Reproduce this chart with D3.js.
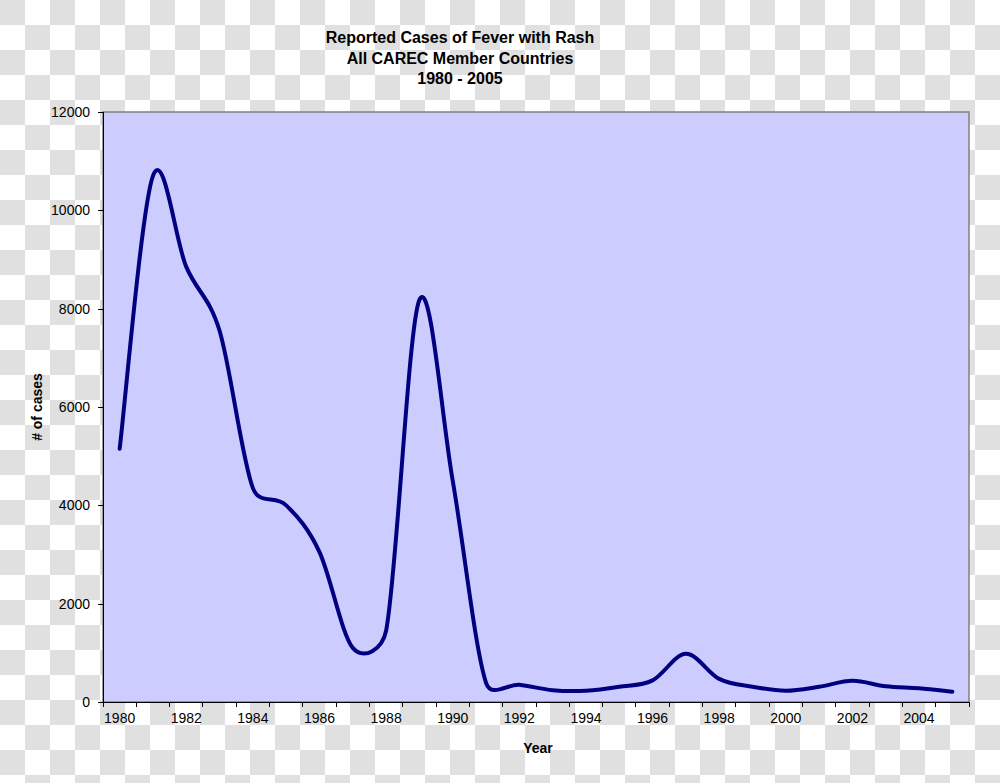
<!DOCTYPE html>
<html lang="en">
<head>
  <meta charset="UTF-8">
  <title>Reported Cases of Fever with Rash</title>
  <style>
      body { margin: 0; }
      text { font-family: Arial, "Liberation Sans", sans-serif; fill: #000; }
      .axis path, .axis line { stroke: #000; shape-rendering: crispEdges; }
      .axis text { font-size: 14px; }
  </style>
</head>
<body>
<div id="chart"></div>
<script src="https://d3js.org/d3.v7.min.js"></script>
<script>
  const years = ['1980', '1981', '1982', '1983', '1984', '1985', '1986', '1987', '1988', '1989',
    '1990', '1991', '1992', '1993', '1994', '1995', '1996', '1997', '1998', '1999',
    '2000', '2001', '2002', '2003', '2004', '2005'];
  const cases = [5150, 10700, 8850, 7550, 4350, 4000, 3050, 1100, 1450, 8180,
    4500, 390, 350, 240, 230, 310, 440, 980, 470, 310,
    230, 310, 430, 320, 280, 210];
  const yTicks = [0, 2000, 4000, 6000, 8000, 10000, 12000];
  const titleLines = ['Reported Cases of Fever with Rash', 'All CAREC Member Countries', '1980 - 2005'];

  const W = 1000, H = 783;
  const margin = {top: 112, right: 31, bottom: 81, left: 103},
    width = W - margin.left - margin.right,
    height = H - margin.top - margin.bottom;

  // spreadsheet-style smoothing: bezier with 1/6 tangents, handles capped at half a segment
  function curveSmooth(context) {
    let pts;
    const dist = (a, b) => Math.hypot(b[0] - a[0], b[1] - a[1]);
    return {
      areaStart() {}, areaEnd() {},
      lineStart() { pts = []; },
      point(px, py) { pts.push([+px, +py]); },
      lineEnd() {
        const n = pts.length;
        if (!n) return;
        context.moveTo(pts[0][0], pts[0][1]);
        for (let i = 0; i < n - 1; i++) {
          const p0 = pts[Math.max(i - 1, 0)], p1 = pts[i], p2 = pts[i + 1], p3 = pts[Math.min(i + 2, n - 1)];
          const d12 = dist(p1, p2), d02 = dist(p0, p2), d13 = dist(p1, p3);
          let f1 = 1 / 6, f2 = 1 / 6;
          if (d02 / 6 > d12 / 2) f1 = d12 / (2 * d02);
          if (d13 / 6 > d12 / 2) f2 = d12 / (2 * d13);
          context.bezierCurveTo(
            p1[0] + f1 * (p2[0] - p0[0]), p1[1] + f1 * (p2[1] - p0[1]),
            p2[0] - f2 * (p3[0] - p1[0]), p2[1] - f2 * (p3[1] - p1[1]),
            p2[0], p2[1]);
        }
      }
    };
  }

  const root = d3.select("#chart").append("svg")
    .attr("width", W)
    .attr("height", H);

  // checkerboard backdrop
  const pat = root.append("defs").append("pattern")
    .attr("id", "checker")
    .attr("width", 50).attr("height", 50)
    .attr("patternUnits", "userSpaceOnUse");
  pat.append("rect").attr("width", 50).attr("height", 50).attr("fill", "#ffffff");
  pat.append("rect").attr("width", 25).attr("height", 25).attr("fill", "#e0e0e0");
  pat.append("rect").attr("x", 25).attr("y", 25).attr("width", 25).attr("height", 25).attr("fill", "#e0e0e0");
  root.append("rect").attr("width", W).attr("height", H).attr("fill", "url(#checker)");

  const svg = root.append("g")
    .attr("transform", `translate(${margin.left},${margin.top})`);

  const x = d3.scaleBand()
    .domain(years)
    .range([0, width]);

  const y = d3.scaleLinear()
    .domain([0, 12000])
    .range([height, 0]);

  // plot area
  svg.append("rect")
    .attr("width", width)
    .attr("height", height)
    .attr("fill", "#ccccff")
    .attr("stroke", "#808080")
    .attr("stroke-width", 1.5);

  // y axis
  svg.append("g")
    .attr("class", "axis")
    .call(d3.axisLeft(y).tickValues(yTicks).tickSize(5).tickPadding(8).tickFormat(d3.format("d")));

  // x axis: ticks on band edges, labels every second year
  const xAxis = svg.append("g")
    .attr("class", "axis")
    .attr("transform", `translate(0,${height})`);
  xAxis.append("line")
    .attr("x1", 0).attr("x2", width);
  xAxis.selectAll(".tick-mark")
    .data(years.concat(["end"]))
    .enter().append("line")
    .attr("x1", (d, i) => i * x.bandwidth())
    .attr("x2", (d, i) => i * x.bandwidth())
    .attr("y1", 0).attr("y2", 5);
  xAxis.selectAll(".lbl")
    .data(years.filter((d, i) => i % 2 === 0))
    .enter().append("text")
    .attr("x", d => x(d) + x.bandwidth() / 2)
    .attr("y", 21)
    .attr("text-anchor", "middle")
    .text(d => d);

  const line = d3.line()
    .x((d, i) => x(years[i]) + x.bandwidth() / 2)
    .y(d => y(d))
    .curve(curveSmooth);

  svg.append("path")
    .datum(cases)
    .attr("fill", "none")
    .attr("stroke", "#000080")
    .attr("stroke-width", 4)
    .attr("stroke-linejoin", "round")
    .attr("stroke-linecap", "round")
    .attr("d", line);

  // titles
  root.append("text")
    .attr("text-anchor", "middle")
    .style("font-size", "16px")
    .style("font-weight", "bold")
    .selectAll("tspan")
    .data(titleLines)
    .enter().append("tspan")
    .attr("x", 460)
    .attr("y", (d, i) => 43 + i * 20.5)
    .text(d => d);

  root.append("text")
    .attr("transform", "translate(42,407) rotate(-90)")
    .attr("text-anchor", "middle")
    .style("font-size", "14px")
    .style("font-weight", "bold")
    .text("# of cases");

  root.append("text")
    .attr("x", 538)
    .attr("y", 753)
    .attr("text-anchor", "middle")
    .style("font-size", "14px")
    .style("font-weight", "bold")
    .text("Year");
</script>
</body>
</html>
